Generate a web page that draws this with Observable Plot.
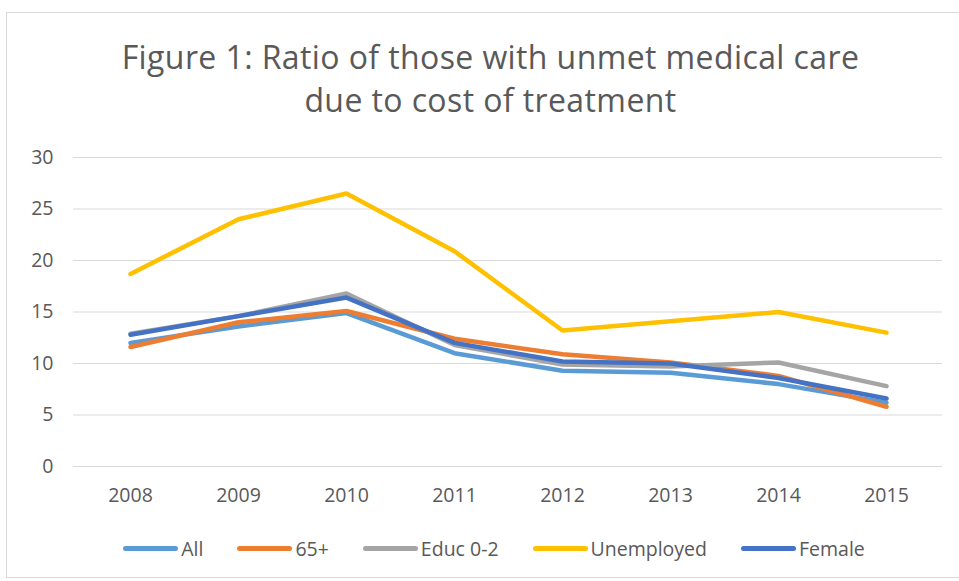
<!DOCTYPE html>
<html>
<head>
<meta charset="utf-8">
<script src="https://cdn.jsdelivr.net/npm/d3@7"></script>
<script src="https://cdn.jsdelivr.net/npm/@observablehq/plot@0.6"></script>
<style>
  html, body { margin: 0; padding: 0; background: #fff; }
  body { width: 959px; height: 581px; overflow: hidden; position: relative; font-family: "Open Sans", Lato, "Liberation Sans", sans-serif; color: #595959; }
  #frame { position: absolute; left: 6px; top: 12px; width: 960px; height: 566px; border: 1px solid #d9d9d9; box-sizing: border-box; }
  #title { position: absolute; left: 0; top: 35px; width: 981px; text-align: center; font-size: 32px; letter-spacing: 0.4px; line-height: 43px; color: #595959; }
  #chart { position: absolute; left: 0; top: 130px; }
  #legend { position: absolute; left: 0; top: 535px; width: 988px; display: flex; justify-content: center; align-items: center; font-size: 19.5px; color: #595959; }
  .item { display: flex; align-items: center; margin: 0 17px; }
  .sw { width: 55px; height: 5px; border-radius: 3px; margin-right: 3px; }
</style>
</head>
<body>
<div id="frame"></div>
<div id="title">Figure 1: Ratio of those with unmet medical care<br>due to cost of treatment</div>
<div id="chart"></div>
<div id="legend"></div>
<script>
const years = [2008, 2009, 2010, 2011, 2012, 2013, 2014, 2015];
const seriesNames = ["All", "65+", "Educ 0-2", "Unemployed", "Female"];
const seriesColors = ["#5B9BD5", "#ED7D31", "#A5A5A5", "#FFC000", "#4472C4"];
const allValues        = [12.0, 13.6, 14.9, 11.0, 9.3, 9.1, 8.0, 6.2];
const age65Values      = [11.6, 14.0, 15.1, 12.4, 10.9, 10.1, 8.8, 5.8];
const educValues       = [12.9, 14.6, 16.8, 11.8, 9.9, 9.7, 10.1, 7.8];
const unemployedValues = [18.7, 24.0, 26.5, 20.9, 13.2, 14.1, 15.0, 13.0];
const femaleValues     = [12.8, 14.6, 16.4, 12.0, 10.2, 10.0, 8.6, 6.6];
const yTicks = [0, 5, 10, 15, 20, 25, 30];

const seriesValues = [allValues, age65Values, educValues, unemployedValues, femaleValues];
const data = seriesNames.flatMap((name, i) =>
  years.map((year, j) => ({ series: name, year: String(year), value: seriesValues[i][j] })));

const chart = Plot.plot({
  width: 959,
  height: 390,
  marginLeft: 73,
  marginRight: 17,
  marginTop: 27,
  marginBottom: 54,
  style: { fontFamily: "'Open Sans', Lato, 'Liberation Sans', sans-serif", fontSize: "19.5px", color: "#595959", background: "transparent" },
  x: { type: "point", domain: years.map(String), padding: 0.5, label: null },
  y: { domain: [0, 30], ticks: yTicks, label: null },
  color: { domain: seriesNames, range: seriesColors },
  marks: [
    Plot.gridY(yTicks, { stroke: "#d9d9d9", strokeOpacity: 1, strokeWidth: 1 }),
    Plot.axisY(yTicks, { tickSize: 0, tickPadding: 20, fontSize: 19.5, fill: "#595959" }),
    Plot.axisX({ tickSize: 0, tickPadding: 22, fontSize: 19.5, fill: "#595959" }),
    Plot.line(data, { x: "year", y: "value", z: "series", stroke: "series", strokeWidth: 4.5, strokeLinecap: "round", strokeLinejoin: "round", curve: "linear" })
  ]
});
document.getElementById("chart").appendChild(chart);

const legend = document.getElementById("legend");
seriesNames.forEach((name, i) => {
  const item = document.createElement("div");
  item.className = "item";
  const sw = document.createElement("div");
  sw.className = "sw";
  sw.style.background = seriesColors[i];
  const label = document.createElement("span");
  label.textContent = name;
  item.appendChild(sw);
  item.appendChild(label);
  legend.appendChild(item);
});
</script>
</body>
</html>
